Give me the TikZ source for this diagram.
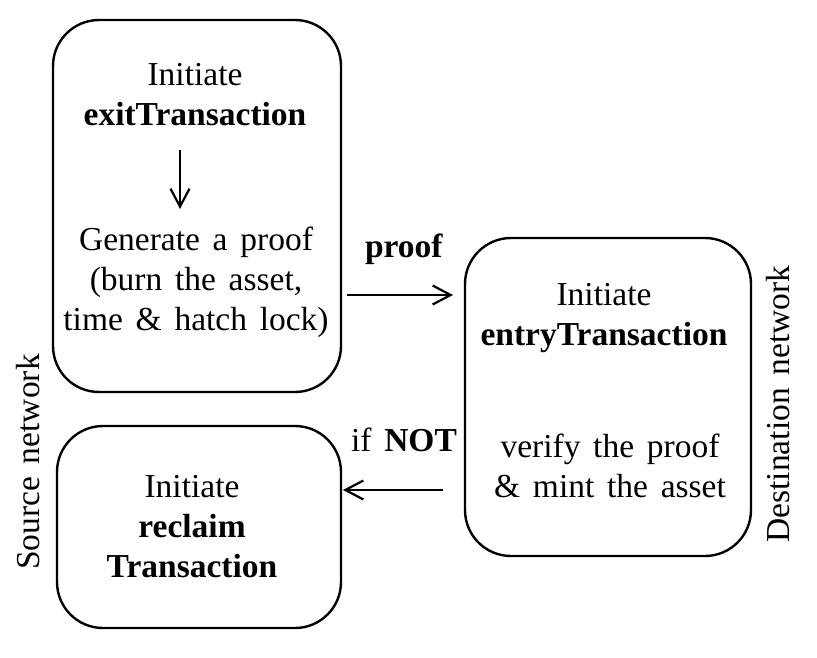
\documentclass[tikz,border=0pt]{standalone}
\usepackage{fontspec}
\setmainfont{Liberation Serif}
\usetikzlibrary{arrows.meta}
\newcommand\mytxtfont{\fontsize{33.5}{40}\selectfont\spaceskip=0.38em\relax}
\begin{document}
\begin{tikzpicture}[x=1pt,y=-1pt,
  box/.style={draw,line width=2.4pt,rounded corners=46pt,inner sep=0pt},
  txt/.style={font=\mytxtfont,align=center,inner sep=0pt},
  conn/.style={-{Straight Barb[length=18pt,width=19pt,line width=2.2pt]},line width=2.4pt},
]
\useasboundingbox (0,0) rectangle (817,657);
\node[box,minimum width=288pt,minimum height=372pt] (src) at (197,206) {};
\node[box,minimum width=286pt,minimum height=318pt] (dst) at (608,397) {};
\node[box,minimum width=284pt,minimum height=202pt] (rec) at (199,527) {};

\node[txt] (init1) at (195,95) {Initiate\\\textbf{exitTransaction}};
\node[txt] (gen) at (196,282) {Generate a proof\\(burn the asset,\\time \& hatch lock)};
\node[txt] (init2) at (604,318) {Initiate\\\textbf{entryTransaction}};
\node[txt] (ver) at (610,466) {verify the proof\\\& mint the asset};
\node[txt] (init3) at (192,527) {Initiate\\\textbf{reclaim}\\\textbf{Transaction}};

\coordinate (a1) at (180,150);
\coordinate (a2) at (180,209);
\draw[conn] (a1) -- (a2);
\coordinate (p1) at (347,295);
\coordinate (p2) at (453,295);
\draw[conn] (p1) -- (p2);
\coordinate (n1) at (443,490);
\coordinate (n2) at (343,490);
\draw[conn] (n1) -- (n2);

\node[txt] (proof) at (404,249) {\textbf{proof}};
\node[txt] (ifnot) at (404,440) {if \textbf{NOT}};
\node[txt,rotate=90] (srcl) at (28,462) {Source network};
\node[txt,rotate=90] (dstl) at (778,404) {Destination network};
\end{tikzpicture}
\end{document}
